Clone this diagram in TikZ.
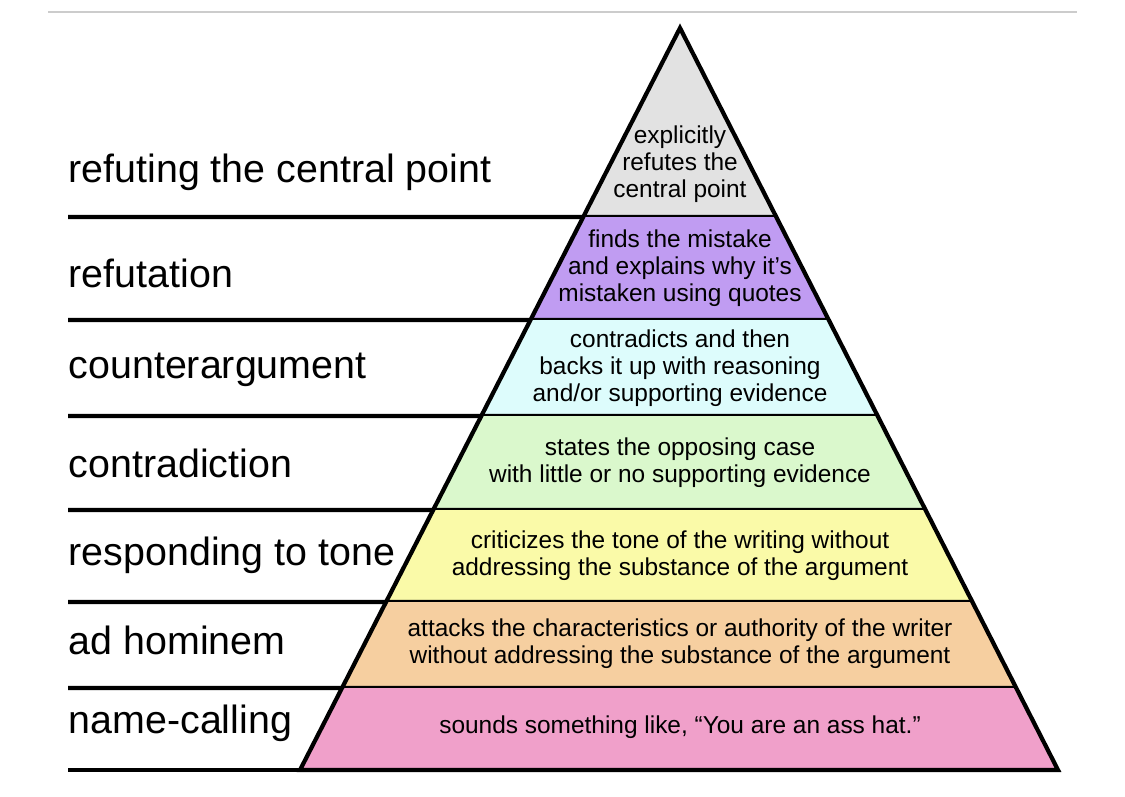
\documentclass[tikz,border=0pt]{standalone}
\usepackage{fontspec}
\setmainfont{Liberation Sans}
\usetikzlibrary{calc}
\definecolor{cGray}{HTML}{E2E2E2}
\definecolor{cPurple}{HTML}{C09CF2}
\definecolor{cCyan}{HTML}{DDFCFC}
\definecolor{cGreen}{HTML}{DAF8CC}
\definecolor{cYellow}{HTML}{FAFAA8}
\definecolor{cOrange}{HTML}{F6CFA0}
\definecolor{cPink}{HTML}{F0A0CA}
\tikzset{
  level/.style={font=\fontsize{11.2pt}{13pt}\selectfont, anchor=west, inner sep=0pt},
  desc/.style={font=\fontsize{6.95pt}{7.7pt}\selectfont, align=center, inner sep=0pt},
  rule/.style={line width=1.2pt}
}
\begin{document}
\begin{tikzpicture}[x=0.01cm,y=-0.01cm]
\useasboundingbox (0,0) rectangle (1125,796);
\draw[gray!40, line width=0.8pt] (48,12) -- (1077,12);
\coordinate (apex) at (680,28);
\coordinate (bl) at (300,770);
\coordinate (br) at (1058,770);
% Bands
\foreach \i/\yt/\yb/\col/\ly/\ty/\lab/\txt in {
 1/28/217/cGray/172/164/{refuting the central point}/{explicitly\\refutes the\\central point},
 2/217/320/cPurple/273/268/{refutation}/{finds the mistake\\and explains why it's\\mistaken using quotes},
 3/320/416/cCyan/370/368/{counterargument}/{contradicts and then\\backs it up with reasoning\\and/or supporting evidence},
 4/416/510/cGreen/463/463/{contradiction}/{states the opposing case\\with little or no supporting evidence},
 5/510/602/cYellow/555/556/{responding to tone}/{criticizes the tone of the writing without\\addressing the substance of the argument},
 6/602/688/cOrange/640/644/{ad hominem}/{attacks the characteristics or authority of the writer\\without addressing the substance of the argument},
 7/688/770/cPink/723/727/{name-calling}/{sounds something like, “You are an ass hat.”}} {
  \pgfmathsetmacro{\ft}{(\yt-28)/742}
  \pgfmathsetmacro{\fb}{(\yb-28)/742}
  \coordinate (tl\i) at ($(apex)!\ft!(bl)$);
  \coordinate (tr\i) at ($(apex)!\ft!(br)$);
  \coordinate (bl\i) at ($(apex)!\fb!(bl)$);
  \coordinate (br\i) at ($(apex)!\fb!(br)$);
  \fill[\col] (tl\i) -- (tr\i) -- (br\i) -- (bl\i) -- cycle;
  \coordinate (s\i) at (68,\yb);
  \draw[rule] (s\i) -- (br\i);
  \node[level] (lab\i) at (68,\ly) {\lab};
  \node[desc] (txt\i) at (680,\ty) {\txt};
}
\draw[rule, line join=miter] (bl) -- (apex) -- (br) -- cycle;
\end{tikzpicture}
\end{document}
